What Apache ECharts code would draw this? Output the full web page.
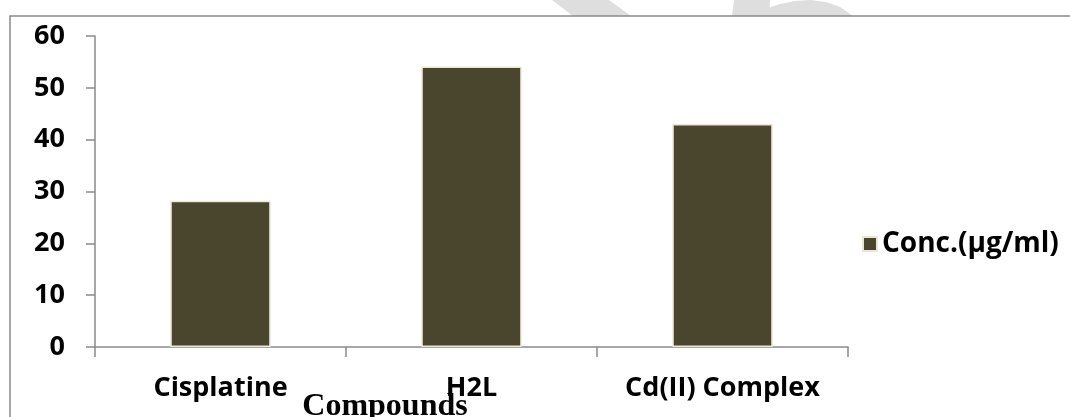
<!DOCTYPE html>
<html>
<head>
<meta charset="utf-8">
<title>Conc.(µg/ml) by compound</title>
<script src="https://cdn.jsdelivr.net/npm/echarts@6/dist/echarts.min.js"></script>
<style>
  html, body { margin: 0; padding: 0; background: #ffffff; }
  #chart { width: 1070px; height: 417px; }
</style>
</head>
<body>
<div id="chart"></div>
<script>
// Compounds on the category axis
const categories = ['Cisplatine', 'H2L', 'Cd(II) Complex'];
// Concentration for each compound (µg/ml)
const concValues = [28.2, 54.1, 43.0];
const seriesName = 'Conc.(µg/ml)';
const axisTitle = 'Compounds';
// Value axis range and step
const yMin = 0, yMax = 60, yStep = 10;

const labelFont = '"Open Sans", "Noto Sans", sans-serif';
const axisGray = '#8a8a8a';
const markGray = '#dedede';

const chart = echarts.init(document.getElementById('chart'), null, { renderer: 'canvas' });

chart.setOption({
  animation: false,
  backgroundColor: '#ffffff',
  grid: { left: 95, right: 222, top: 36, bottom: 70, containLabel: false },
  legend: {
    data: [seriesName],
    left: 857,
    top: 225,
    orient: 'vertical',
    icon: 'rect',
    itemWidth: 14,
    itemHeight: 14,
    itemGap: 5,
    textStyle: { fontFamily: labelFont, fontWeight: 'bold', fontSize: 28, color: '#000000', padding: [0, 0, 0, 0] }
  },
  xAxis: {
    type: 'category',
    data: categories,
    boundaryGap: true,
    axisLine: { show: true, lineStyle: { color: axisGray, width: 1.5 } },
    axisTick: { show: true, length: 10, inside: false, alignWithLabel: false, lineStyle: { color: axisGray, width: 1.5 } },
    axisLabel: { margin: 28, fontFamily: labelFont, fontWeight: 'bold', fontSize: 27, color: '#000000', interval: 0 },
    splitLine: { show: false }
  },
  yAxis: {
    type: 'value',
    min: yMin,
    max: yMax,
    interval: yStep,
    axisLine: { show: true, lineStyle: { color: axisGray, width: 1.5 } },
    axisTick: { show: true, length: 9, inside: false, lineStyle: { color: axisGray, width: 1.5 } },
    axisLabel: { margin: 30, fontFamily: labelFont, fontWeight: 'bold', fontSize: 27, color: '#000000' },
    splitLine: { show: false }
  },
  series: [{
    name: seriesName,
    type: 'bar',
    data: concValues,
    barWidth: '40%',
    itemStyle: { color: '#4a452d', borderColor: '#ebe7d6', borderWidth: 1.5 }
  }],
  graphic: [
    // faint logo strokes peeking above the frame
    {
      type: 'polygon', silent: true, z: -2,
      shape: { points: [[552, 0], [609, 0], [631, 16], [573, 16]] },
      style: { fill: markGray }
    },
    {
      type: 'polygon', silent: true, z: -2,
      shape: { points: [[734, 0], [770, 0], [769, 16], [732, 16]] },
      style: { fill: markGray }
    },
    {
      type: 'polygon', silent: true, z: -2,
      shape: { points: [[768, 16], [768, 8], [780, 4], [795, 1], [810, 0], [826, 2], [840, 7], [853, 16]] },
      style: { fill: markGray }
    },
    {
      // outer chart frame
      type: 'rect',
      silent: true,
      shape: { x: 10, y: 16, width: 1080, height: 430 },
      style: { fill: '#ffffff', stroke: '#8a8a8a', lineWidth: 1.5 },
      z: -1
    },
    {
      type: 'text',
      silent: true,
      style: {
        x: 385, y: 407,
        text: axisTitle,
        align: 'center',
        verticalAlign: 'middle',
        font: 'bold 32px "Liberation Serif", "Times New Roman", serif',
        fill: '#000000'
      }
    }
  ]
});
</script>
</body>
</html>
